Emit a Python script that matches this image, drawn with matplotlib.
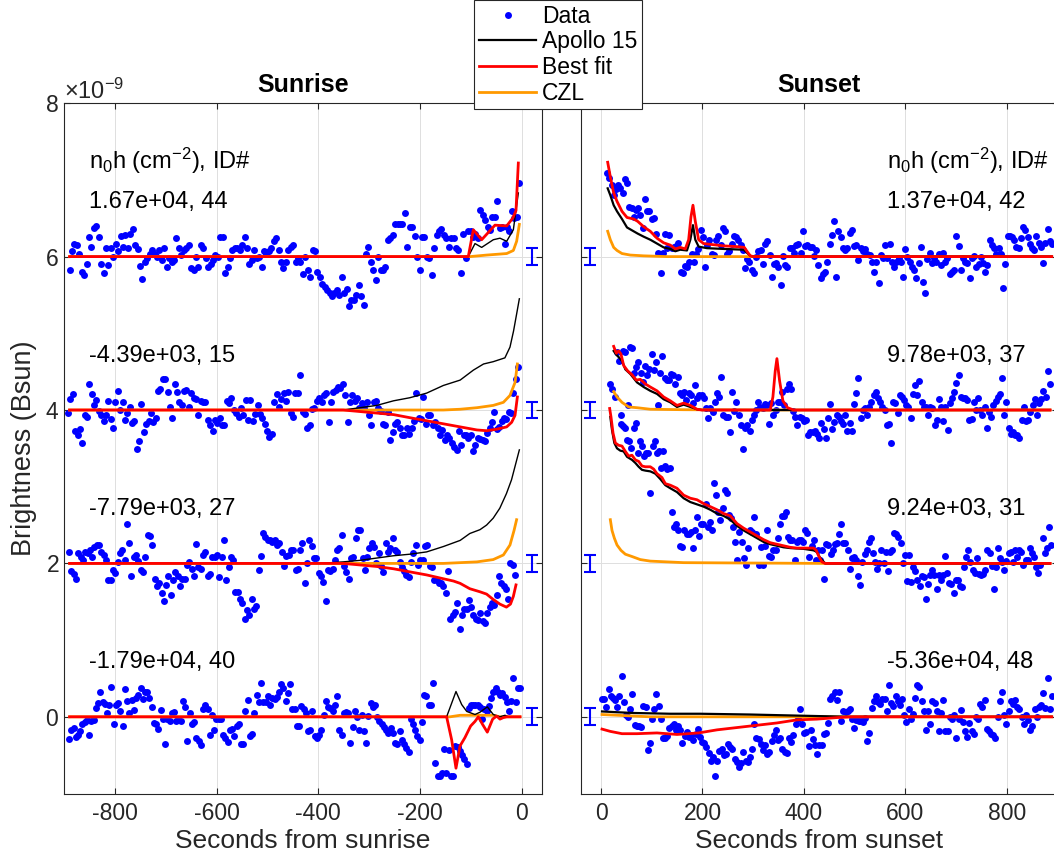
import numpy as np
import matplotlib.pyplot as plt
from matplotlib.ticker import ScalarFormatter, NullFormatter

plt.rcParams['font.family'] = ['Liberation Sans', 'DejaVu Sans']
plt.rcParams['mathtext.fontset'] = 'custom'
plt.rcParams['mathtext.rm'] = 'Liberation Sans'
plt.rcParams['mathtext.it'] = 'Liberation Sans:italic'
plt.rcParams['axes.unicode_minus'] = False

# ---- measured brightness residuals (units of 1e-9 Bsun), evenly sampled in time ----
# sunrise, ID 44  (t from -889 to -5 s)
sr44 = [-0.17, 0.07, 0.17, 0.15, 0.04, -0.20, -0.24, -0.09, 0.26, 0.13,
        0.37, 0.40, 0.26, -0.09, -0.21, 0.11, -0.11, 0.11, 0.00, 0.17,
        0.07, 0.27, 0.13, 0.28, 0.11, 0.30, 0.36, 0.15, 0.10, -0.12,
        -0.29, -0.07, -0.02, 0.04, 0.09, 0.04, 0.00, 0.09, -0.04, 0.11,
        -0.13, -0.02, -0.07, -0.04, 0.24, 0.11, 0.02, 0.09, 0.11, 0.15,
        -0.15, -0.17, 0.00, -0.13, 0.15, 0.11, -0.02, -0.13, -0.09, -0.04,
        0.02, 0.00, 0.26, 0.26, -0.21, -0.13, -0.02, 0.09, 0.11, 0.11,
        0.09, 0.15, 0.25, 0.11, -0.09, -0.04, 0.09, -0.02, 0.00, -0.13,
        0.07, 0.04, 0.07, 0.11, 0.20, 0.24, 0.09, -0.07, -0.15, -0.07,
        0.09, 0.13, 0.15, -0.07, -0.02, -0.07, -0.23, 0.00, -0.17, -0.26,
        0.08, 0.07, -0.20, -0.26, -0.36, -0.39, -0.43, -0.48, -0.52, -0.48,
        -0.43, -0.50, -0.27, -0.48, -0.42, -0.65, -0.57, -0.57, -0.50, -0.37,
        -0.52, -0.63, 0.03, 0.13, -0.07, -0.17, -0.30, -0.01, -0.17, -0.17,
        -0.14, 0.22, 0.24, 0.28, 0.43, 0.43, 0.43, 0.43, 0.57, 0.13,
        0.39, 0.39, 0.27, 0.00, -0.17, 0.26, 0.26, 0.00, -0.02, -0.24,
        0.11, 0.28, 0.33, 0.36, 0.28, 0.24, 0.13, 0.24, 0.24, 0.11,
        0.09, -0.22, 0.30, -0.02, 0.33, 0.33, 0.26, 0.30, 0.24, 0.61,
        0.54, 0.48, 0.39, 0.35, 0.51, 0.51, 0.73, 0.37, 0.39, 0.17,
        0.39, 0.33, 0.59, 0.50, 0.52, 0.96]
# sunrise, ID 15
sr15 = [-0.04, 0.14, 0.21, -0.27, -0.33, -0.25, -0.43, -0.07, -0.09, 0.34,
        0.21, 0.06, 0.13, -0.01, -0.07, -0.14, -0.06, 0.12, -0.12, -0.23,
        0.10, 0.25, 0.00, 0.11, -0.13, -0.04, 0.04, -0.17, -0.14, -0.51,
        -0.40, 0.08, -0.29, -0.18, -0.14, -0.04, -0.16, -0.10, 0.25, 0.27,
        0.40, 0.40, 0.23, 0.04, -0.10, 0.34, 0.24, 0.10, 0.06, 0.25,
        0.26, 0.04, 0.22, 0.16, 0.14, -0.06, 0.12, 0.11, 0.11, -0.13,
        -0.19, -0.27, -0.13, -0.17, -0.10, -0.19, -0.19, 0.12, 0.09, 0.16,
        0.00, -0.04, -0.09, 0.03, -0.07, 0.13, -0.13, 0.13, -0.14, -0.05,
        0.07, -0.05, -0.10, -0.18, -0.27, -0.35, -0.31, 0.10, 0.21, 0.04,
        0.14, 0.22, 0.12, 0.24, -0.04, -0.09, 0.22, 0.22, 0.45, -0.02,
        -0.05, -0.23, -0.19, 0.01, 0.03, 0.12, 0.16, 0.11, 0.20, 0.22,
        -0.16, 0.10, 0.23, 0.26, 0.30, 0.29, 0.34, 0.19, -0.16, 0.10,
        0.20, 0.12, 0.16, 0.03, 0.09, 0.03, 0.10, -0.06, -0.20, 0.11,
        0.12, 0.03, -0.01, -0.18, -0.19, -0.03, -0.39, -0.29, -0.18, -0.15,
        -0.23, -0.33, -0.33, -0.23, -0.31, -0.23, -0.14, 0.22, -0.10, -0.12,
        0.17, -0.18, -0.06, -0.07, -0.19, -0.15, -0.23, -0.33, -0.26, -0.39,
        -0.33, -0.37, -0.43, -0.48, -0.52, -0.27, -0.45, -0.33, -0.33, -0.36,
        -0.33, -0.53, -0.45, -0.36, -0.38, -0.39, -0.41, -0.30, -0.23, -0.15,
        -0.02, -0.25, -0.22, -0.14, -0.10, -0.12, -0.03, -0.04, 0.22, 0.40,
        0.56]
# sunrise, ID 27
sr27 = [0.15, -0.10, -0.14, -0.20, 0.13, 0.09, 0.05, 0.15, 0.14, 0.17,
        0.09, 0.22, 0.24, 0.24, 0.15, 0.11, 0.04, -0.21, -0.21, -0.09,
        -0.12, 0.02, 0.14, 0.17, 0.04, 0.52, 0.26, -0.17, 0.08, 0.11,
        0.03, -0.09, -0.11, 0.08, 0.37, 0.36, 0.24, -0.20, -0.30, -0.26,
        -0.38, -0.49, -0.28, -0.17, -0.41, -0.22, -0.11, -0.17, -0.30, -0.20,
        -0.20, -0.02, 0.02, -0.07, -0.17, 0.25, -0.05, -0.07, 0.11, 0.15,
        -0.17, -0.14, 0.08, 0.09, 0.11, -0.18, 0.08, 0.30, -0.22, -0.05,
        0.08, 0.04, -0.37, -0.37, -0.46, -0.51, -0.72, -0.61, -0.67, -0.47,
        -0.59, -0.56, -0.08, 0.10, 0.40, 0.35, 0.31, 0.30, 0.28, 0.30,
        0.24, 0.27, 0.15, -0.04, 0.10, 0.11, 0.17, 0.17, -0.08, -0.07,
        0.17, 0.26, -0.26, 0.00, 0.31, 0.23, 0.07, 0.07, -0.12, -0.17,
        -0.24, -0.49, -0.08, -0.10, -0.07, 0.04, 0.17, 0.20, 0.37, -0.03,
        -0.11, -0.20, 0.07, 0.08, 0.33, 0.44, 0.44, 0.07, -0.08, 0.09,
        0.20, 0.26, 0.22, 0.01, 0.14, -0.04, -0.11, 0.27, 0.15, 0.20,
        0.33, 0.17, 0.15, 0.02, -0.05, -0.10, -0.15, -0.18, 0.02, 0.13,
        0.24, -0.02, 0.05, 0.04, 0.23, 0.24, -0.03, -0.05, -0.22, -0.21,
        -0.26, -0.26, -0.30, -0.39, -0.10, -0.72, -0.67, -0.63, -0.52, -0.85,
        -0.67, -0.59, -0.60, -0.48, -0.57, -0.67, -0.72, -0.74, -0.65, -0.75,
        -0.78, -0.65, -0.57, -0.52, -0.54, -0.41, -0.17, -0.26, -0.30, -0.33,
        -0.46, 0.00, -0.02, -0.15]
# sunrise, ID 40
sr40 = [-0.29, -0.17, -0.14, -0.26, -0.24, -0.19, -0.09, -0.07, -0.04, -0.24,
        -0.06, -0.04, 0.12, 0.18, 0.32, 0.19, 0.17, 0.05, 0.16, 0.39,
        -0.10, 0.15, 0.18, 0.07, -0.12, 0.36, 0.20, 0.05, 0.22, 0.09,
        0.25, 0.29, 0.37, 0.23, 0.32, 0.33, 0.25, 0.13, -0.08, -0.10,
        -0.16, 0.09, -0.03, -0.36, -0.03, -0.06, 0.05, 0.06, -0.06, -0.03,
        -0.06, 0.20, 0.13, -0.32, 0.05, -0.10, -0.07, -0.27, -0.32, -0.37,
        0.10, 0.16, 0.10, -0.24, 0.02, -0.17, -0.03, -0.03, -0.03, -0.24,
        -0.27, -0.33, -0.17, -0.16, -0.25, -0.12, -0.10, -0.36, -0.35, 0.07,
        0.22, -0.25, -0.22, 0.05, 0.29, 0.19, 0.44, 0.19, 0.19, 0.27,
        0.15, 0.25, 0.23, 0.26, 0.32, 0.43, 0.38, 0.20, 0.31, 0.43,
        0.10, 0.10, -0.12, -0.12, 0.14, 0.10, 0.05, -0.19, -0.17, 0.07,
        -0.25, -0.27, -0.24, -0.17, 0.02, 0.20, 0.13, 0.12, 0.07, 0.16,
        0.27, -0.17, -0.24, 0.05, 0.06, 0.05, -0.34, -0.13, 0.07, 0.00,
        -0.17, 0.02, -0.19, -0.34, 0.01, 0.18, 0.13, 0.15, 0.00, -0.06,
        -0.10, -0.13, -0.17, -0.21, -0.14, -0.21, -0.34, -0.36, -0.19, -0.30,
        -0.36, -0.40, -0.46, -0.03, -0.10, -0.17, -0.25, -0.30, -0.07, 0.29,
        0.27, 0.16, 0.16, 0.44, -0.60, -0.77, -0.77, -0.73, -0.42, -0.73,
        -0.43, -0.77, -0.77, -0.38, -0.39, -0.45, -0.50, -0.55, -0.62, 0.12,
        0.16, 0.16, 0.15, 0.16, 0.13, -0.03, 0.10, 0.07, 0.14, 0.25,
        0.33, 0.37, 0.33, 0.29, 0.31, 0.26, 0.19, 0.07, 0.20, 0.50,
        0.19, 0.37, 0.37]
# sunset, ID 42  (t from 12 to 889 s)
ss42 = [1.09, 1.03, 0.93, 0.80, 0.88, 0.93, 0.89, 0.83, 1.01, 0.96,
        0.65, 0.64, 0.51, 0.61, 0.63, 0.54, 0.37, 0.75, 0.59, 0.60,
        0.49, 0.50, 0.30, 0.05, -0.22, 0.05, 0.30, 0.11, 0.28, 0.11,
        0.13, 0.14, 0.18, -0.20, -0.21, -0.12, -0.13, -0.07, 0.03, -0.07,
        0.04, 0.10, 0.35, 0.25, -0.14, 0.15, 0.21, 0.03, 0.02, 0.21,
        0.27, 0.15, 0.37, 0.33, 0.03, 0.07, 0.17, 0.27, 0.26, 0.22,
        0.15, 0.08, -0.15, -0.03, -0.07, -0.18, -0.21, 0.00, 0.07, 0.09,
        -0.09, 0.17, 0.20, 0.02, -0.26, -0.09, -0.08, -0.14, -0.37, 0.01,
        -0.11, -0.14, 0.11, 0.11, 0.05, 0.15, 0.17, 0.05, 0.34, 0.14,
        0.15, 0.12, 0.13, 0.01, 0.08, -0.11, -0.28, -0.23, -0.20, -0.07,
        0.17, 0.28, 0.47, -0.26, 0.33, 0.26, 0.11, 0.08, 0.11, 0.31,
        0.35, 0.14, 0.15, -0.05, 0.11, 0.07, 0.10, 0.04, 0.02, -0.07,
        -0.20, -0.07, -0.35, 0.02, -0.02, 0.15, -0.02, 0.17, -0.07, -0.13,
        -0.07, -0.02, -0.07, -0.26, 0.10, 0.00, -0.07, -0.13, -0.17, -0.28,
        -0.08, 0.13, -0.33, -0.48, -0.03, 0.05, -0.08, -0.02, -0.07, 0.03,
        -0.11, 0.05, -0.07, -0.02, -0.23, -0.20, -0.17, 0.27, 0.14, -0.17,
        -0.02, -0.07, -0.08, -0.28, -0.02, 0.01, -0.13, -0.10, 0.00, -0.08,
        -0.20, -0.11, 0.21, 0.15, 0.11, 0.03, 0.11, 0.04, -0.41, -0.10,
        0.27, 0.27, 0.25, 0.22, 0.12, 0.11, 0.24, 0.39, 0.35, 0.26,
        0.17, 0.11, 0.09, 0.27, 0.18, 0.13, -0.08, 0.18, 0.36, 0.20,
        0.17]
# sunset, ID 37
ss37 = [0.34, 0.27, 0.17, 0.75, 0.64, -0.06, 0.77, 0.75, 0.07, 0.82,
        0.81, 0.48, 0.56, 0.62, 0.48, 0.36, 0.58, 0.45, 0.53, 0.73,
        0.52, 0.62, 0.06, 0.48, 0.71, 0.42, 0.39, 0.39, 0.47, 0.45,
        0.34, 0.43, 0.22, 0.19, 0.23, 0.13, 0.22, 0.20, 0.09, 0.33,
        0.16, 0.19, 0.20, 0.16, 0.03, -0.10, 0.03, -0.03, 0.10, 0.22,
        0.17, 0.43, -0.07, -0.09, -0.09, -0.29, 0.24, -0.01, 0.11, -0.06,
        -0.19, -0.51, -0.23, -0.19, -0.27, -0.13, -0.07, 0.00, 0.11, 0.04,
        0.03, 0.08, 0.07, -0.18, 0.09, -0.06, 0.00, 0.10, 0.11, 0.23,
        0.07, 0.27, 0.34, 0.27, -0.01, -0.09, -0.19, -0.09, -0.10, -0.14,
        -0.13, -0.33, -0.29, -0.29, -0.27, -0.31, -0.36, -0.17, -0.25, -0.37,
        -0.10, 0.08, -0.25, -0.16, -0.06, -0.09, -0.14, -0.18, -0.06, -0.28,
        -0.17, -0.27, 0.08, 0.22, 0.42, -0.10, 0.00, 0.03, -0.06, 0.04,
        0.10, 0.20, 0.23, 0.16, 0.10, 0.04, 0.00, -0.20, -0.18, -0.43,
        0.11, 0.09, -0.04, 0.20, 0.17, 0.13, 0.07, 0.04, -0.10, 0.21,
        0.32, 0.20, 0.38, 0.10, 0.04, 0.04, -0.06, 0.04, 0.03, -0.19,
        -0.13, 0.14, 0.04, -0.14, 0.04, -0.26, 0.09, 0.16, 0.23, 0.35,
        0.46, 0.17, 0.16, 0.16, 0.13, -0.13, -0.12, 0.11, 0.00, 0.16,
        0.00, -0.06, 0.04, -0.23, -0.02, -0.09, 0.06, 0.12, 0.17, 0.21,
        0.42, -0.07, 0.10, -0.23, -0.31, -0.29, -0.33, -0.33, -0.37, -0.13,
        0.04, -0.14, -0.13, -0.02, 0.07, 0.14, -0.07, 0.09, 0.14, 0.25,
        0.17, 0.51, 0.34]
# sunset, ID 31  (t from 39 to 887 s)
ss31 = [1.82, 1.79, 1.77, 1.61, 1.60, 1.50, 1.77, 1.83, 1.44, 1.60,
        1.53, 1.40, 1.44, 1.44, 0.92, 1.53, 1.59, 1.44, 1.46, 1.24,
        1.46, 1.27, 1.23, 1.24, 0.67, 0.48, 0.51, 0.44, 0.23, 0.21,
        0.43, 0.39, 0.38, 0.41, 0.20, 0.43, 0.60, 0.36, 0.51, 0.52,
        0.77, 0.48, 0.54, 0.43, 1.05, 0.89, 0.67, 0.57, 0.72, 0.96,
        0.92, 0.63, 0.59, 0.48, 0.28, 0.04, 0.41, 0.28, 0.07, -0.02,
        0.20, 0.43, 0.41, 0.60, 0.39, -0.02, 0.22, -0.02, 0.23, 0.44,
        0.10, 0.08, 0.17, 0.17, 0.33, 0.52, 0.62, 0.62, 0.67, 0.34,
        0.30, 0.31, 0.04, 0.28, 0.30, 0.30, 0.28, 0.44, 0.40, 0.08,
        0.23, 0.30, 0.05, 0.17, 0.05, 0.18, -0.20, 0.25, 0.24, 0.12,
        0.18, 0.25, 0.26, 0.38, 0.51, 0.26, 0.27, 0.18, -0.07, 0.07,
        0.09, 0.04, -0.17, -0.28, 0.02, 0.12, 0.17, 0.28, 0.33, 0.14,
        0.02, -0.07, 0.01, 0.17, 0.01, 0.15, -0.10, 0.15, 0.17, 0.40,
        0.39, 0.35, 0.26, 0.00, 0.11, -0.23, 0.11, -0.24, -0.05, -0.10,
        -0.21, -0.30, -0.17, -0.18, -0.46, -0.27, -0.15, -0.09, -0.15, -0.34,
        -0.15, -0.22, -0.15, 0.10, -0.13, -0.26, -0.27, -0.39, -0.22, -0.21,
        -0.30, -0.31, -0.05, 0.09, 0.17, 0.02, -0.08, -0.13, 0.07, -0.14,
        -0.15, -0.14, -0.08, 0.17, 0.14, -0.03, -0.33, -0.05, 0.20, 0.07,
        0.02, -0.09, 0.03, 0.14, 0.15, 0.02, 0.17, 0.08, 0.17, 0.15,
        -0.02, 0.05, 0.05, 0.20, 0.13, 0.09, -0.05, -0.12, -0.02, 0.33,
        0.14, 0.20, 0.48, 0.24]
# sunset, ID 48  (t from 2 to 889 s)
ss48 = [0.23, 0.23, 0.13, 0.36, 0.27, 0.25, 0.22, 0.13, 0.27, 0.53,
        0.19, 0.03, 0.00, 0.10, 0.30, -0.11, -0.12, -0.12, -0.13, 0.14,
        0.13, -0.43, -0.34, -0.03, 0.10, 0.30, 0.14, -0.03, -0.27, -0.27,
        -0.25, -0.14, -0.12, -0.10, -0.17, -0.12, -0.17, -0.34, -0.25, -0.20,
        -0.26, -0.24, -0.30, -0.22, -0.16, -0.26, -0.33, -0.34, -0.39, -0.47,
        -0.57, -0.52, -0.77, -0.57, -0.45, -0.42, -0.50, -0.49, -0.36, -0.39,
        -0.42, -0.55, -0.59, -0.65, -0.60, -0.46, -0.58, -0.59, -0.53, -0.42,
        -0.10, -0.27, -0.29, -0.36, -0.43, -0.37, -0.49, -0.46, -0.32, -0.24,
        -0.17, -0.30, -0.27, -0.42, -0.46, -0.47, -0.27, -0.33, -0.24, -0.10,
        -0.03, 0.10, -0.10, -0.21, -0.20, -0.38, -0.17, -0.29, -0.37, -0.49,
        -0.37, -0.37, -0.22, -0.21, -0.08, 0.23, 0.27, 0.32, 0.22, 0.33,
        -0.06, 0.07, 0.06, 0.07, 0.10, -0.03, -0.14, -0.04, -0.06, -0.06,
        -0.07, -0.01, -0.32, -0.21, 0.12, 0.20, 0.27, 0.19, 0.17, 0.23,
        0.23, 0.07, 0.41, 0.18, 0.14, 0.27, 0.20, 0.16, 0.23, 0.03,
        -0.07, 0.10, -0.03, 0.04, 0.25, 0.41, 0.39, 0.20, 0.07, -0.17,
        0.07, -0.10, 0.20, 0.18, 0.07, -0.19, 0.05, 0.22, -0.19, -0.19,
        0.00, -0.03, 0.02, -0.27, -0.03, 0.09, -0.07, -0.19, -0.26, -0.08,
        -0.19, -0.22, 0.00, -0.03, 0.17, 0.13, 0.22, -0.16, -0.19, -0.22,
        -0.24, -0.27, 0.00, 0.20, 0.32, 0.02, -0.09, 0.07, 0.20, 0.17,
        0.22, 0.13, 0.10, 0.00, -0.10, 0.02, -0.04, -0.17, -0.12, 0.10,
        0.00, 0.13, 0.15, 0.31, 0.12, 0.51, 0.10, 0.27]

t_sr44 = (-889, -5)
t_sr15 = (-892, -7)
t_sr27 = (-890, -13)
t_sr40 = (-890, -3)
t_ss42 = (12, 889)
t_ss37 = (18, 885)
t_ss31 = (39, 887)
t_ss48 = (2, 889)

# ---- model curves: (time s, brightness 1e-9) ----
a15_sr44 = [(-889, 0), (-105, 0), (-91.8, 0.17), (-78.7, 0.12), (-55.8, 0.22), (-42.7, 0.24),
            (-29.5, 0.20), (-16.4, 0.35), (-6.6, 0.83)]
fit_sr44 = [(-889, 0), (-105, 0), (-95.1, 0.35), (-78.7, 0.22), (-52.5, 0.41), (-29.5, 0.40),
            (-17.7, 0.50), (-11.2, 0.60), (-6.6, 1.22)]
czl_sr44 = [(-889, 0), (-101.7, 0), (-68.9, 0.02), (-29.5, 0.04), (-16.4, 0.08), (-9.9, 0.20),
            (-4.6, 0.42)]
a15_sr15 = [(-889, 0), (-351, 0), (-318, 0.03), (-285, 0.06), (-252, 0.12), (-220, 0.16),
            (-187, 0.22), (-154, 0.32), (-121, 0.39), (-95, 0.52), (-75, 0.60), (-56, 0.63),
            (-33, 0.68), (-23, 0.82), (-16, 1.03), (-10, 1.25), (-4.6, 1.45)]
fit_sr15 = [(-889, 0), (-351, 0), (-318, -0.02), (-252, -0.06), (-220, -0.10), (-187, -0.14),
            (-154, -0.18), (-121, -0.22), (-88, -0.26), (-69, -0.27), (-49, -0.25), (-29.5, -0.22),
            (-19.7, -0.16), (-13.1, -0.07), (-8.5, 0.17)]
czl_sr15 = [(-889, 0), (-154, 0), (-121, 0.01), (-88, 0.03), (-56, 0.06), (-36, 0.10),
            (-23, 0.19), (-13, 0.36), (-8.5, 0.60)]
a15_sr27 = [(-889, 0), (-397, 0), (-351, 0.02), (-318, 0.04), (-285, 0.07), (-252, 0.10),
            (-220, 0.12), (-187, 0.15), (-154, 0.22), (-121, 0.30), (-102, 0.39), (-82, 0.44),
            (-69, 0.50), (-56, 0.59), (-43, 0.72), (-30, 0.91), (-20, 1.09), (-4.6, 1.48)]
fit_sr27 = [(-889, 0), (-351, 0), (-318, -0.02), (-285, -0.04), (-252, -0.07), (-220, -0.11),
            (-187, -0.15), (-154, -0.20), (-134, -0.23), (-121, -0.26), (-102, -0.33), (-82, -0.37),
            (-69, -0.40), (-56, -0.47), (-43, -0.53), (-30, -0.57), (-22, -0.53), (-16.4, -0.43),
            (-11.2, -0.28)]
czl_sr27 = [(-889, 0), (-154, 0), (-121, 0.01), (-88, 0.02), (-56, 0.05), (-36, 0.11),
            (-23, 0.24), (-15, 0.43), (-10, 0.57)]
a15_sr40 = [(-889, 0), (-147.6, 0), (-129.2, 0.33), (-118, 0.16), (-108, 0.07), (-91.8, 0.03),
            (-82, 0.06), (-67.6, 0.13), (-55.8, 0.03), (-42.7, 0), (-32.8, 0.02), (-26.2, 0),
            (-3.3, 0)]
fit_sr40 = [(-889, 0), (-147.6, 0), (-137.7, -0.30), (-129.2, -0.67), (-121.3, -0.38),
            (-111.5, -0.27), (-100.4, -0.12), (-91.8, -0.06), (-85.3, 0), (-76.8, -0.10),
            (-67.6, -0.20), (-57.1, -0.03), (-49.2, 0.01), (-42.7, -0.03), (-36.1, -0.01),
            (-29.5, 0), (-3.3, 0)]
czl_sr40 = [(-889, 0), (-141, 0), (-121, 0.02), (-56, 0.02), (-43, 0), (-3.3, 0)]

a15_ss42 = [(13.1, 0.89), (18.3, 0.80), (24.9, 0.67), (31.5, 0.59), (41.3, 0.49), (51.2, 0.38),
            (64.3, 0.33), (72.2, 0.30), (84, 0.26), (97.1, 0.22), (110.3, 0.17), (123.4, 0.12),
            (136.5, 0.10), (146.4, 0.07), (156.2, 0.09), (169.4, 0.08), (176, 0.22), (181.2, 0.41),
            (185.8, 0.22), (192.4, 0.13), (208.8, 0.11), (241.6, 0.10), (281, 0.09), (287.6, 0.05),
            (294.2, 0.01), (300.7, 0), (888, 0)]
fit_ss42 = [(13.1, 1.23), (18.3, 1.04), (24.9, 0.83), (31.5, 0.72), (41.3, 0.59), (51.2, 0.51),
            (64.3, 0.49), (72.2, 0.46), (84, 0.39), (97.1, 0.33), (110.3, 0.24), (123.4, 0.18),
            (136.5, 0.15), (146.4, 0.10), (156.2, 0.12), (166.1, 0.10), (172.7, 0.22), (177.3, 0.52),
            (181.2, 0.67), (185.8, 0.46), (192.4, 0.22), (202.2, 0.17), (215.4, 0.16), (241.6, 0.14),
            (267.9, 0.13), (282.4, 0.12), (287.6, 0.07), (294.2, 0.01), (300.7, 0), (888.6, 0)]
czl_ss42 = [(13.1, 0.33), (18.3, 0.22), (24.9, 0.12), (31.5, 0.08), (41.3, 0.04), (57.7, 0.02),
            (84, 0.01), (130, 0), (888, 0)]
a15_ss37 = [(24.9, 0.77), (30.1, 0.72), (34.7, 0.69), (41.3, 0.64), (47.9, 0.53), (57.7, 0.47),
            (70.9, 0.36), (84, 0.30), (97.1, 0.25), (110.3, 0.21), (123.4, 0.14), (136.5, 0.10),
            (149.7, 0.04), (162.8, 0.07), (176, 0.04), (189.1, 0.01), (198.9, 0), (885, 0)]
fit_ss37 = [(24.9, 0.83), (30.1, 0.74), (34.7, 0.77), (39.3, 0.73), (44.6, 0.58), (52.5, 0.51),
            (61, 0.46), (69.6, 0.39), (77.4, 0.40), (87.3, 0.34), (97.1, 0.30), (110.3, 0.25),
            (123.4, 0.17), (136.5, 0.12), (149.7, 0.06), (162.8, 0.09), (176, 0.06), (189.1, 0.01),
            (198.9, 0), (333.6, 0), (338.8, 0.17), (343.4, 0.51), (346.7, 0.67), (352, 0.38),
            (358.5, 0.12), (367.7, 0.03), (379.6, 0), (885.3, 0)]
czl_ss37 = [(24.9, 0.24), (31.5, 0.17), (41.3, 0.10), (54.4, 0.04), (70.9, 0.03), (97.1, 0.01),
            (162.8, 0.004), (300, 0), (885, 0)]
a15_ss31 = [(18.3, 1.91), (21.6, 1.74), (26.2, 1.57), (31.5, 1.50), (38, 1.47), (44.6, 1.46),
            (51.2, 1.39), (61, 1.35), (67.6, 1.31), (74.2, 1.26), (80.7, 1.22), (87.3, 1.21),
            (97.1, 1.20), (107, 1.17), (116.8, 1.10), (126.7, 1.02), (136.5, 0.98), (149.7, 0.93),
            (162.8, 0.85), (176, 0.80), (189.1, 0.77), (202.2, 0.74), (215.4, 0.70), (228.5, 0.65),
            (241.6, 0.62), (254.8, 0.57), (267.9, 0.49), (281, 0.43), (294.2, 0.38), (307.3, 0.33),
            (320.5, 0.28), (333.6, 0.25), (346.7, 0.23), (359.9, 0.21), (373, 0.20), (399.3, 0.19),
            (419, 0.17), (425.5, 0.15), (432.1, 0.07), (441.9, 0), (885, 0)]
fit_ss31 = [(17, 2.02), (19.6, 1.91), (23.6, 1.70), (28.2, 1.57), (34.7, 1.54), (41.3, 1.53),
            (47.9, 1.46), (54.4, 1.40), (61, 1.41), (67.6, 1.35), (74.2, 1.33), (80.7, 1.27),
            (87.3, 1.26), (97.1, 1.26), (103.7, 1.23), (110.3, 1.17), (120.1, 1.12), (126.7, 1.04),
            (136.5, 1.02), (149.7, 0.98), (162.8, 0.89), (176, 0.85), (189.1, 0.83), (202.2, 0.78),
            (215.4, 0.74), (228.5, 0.70), (241.6, 0.65), (254.8, 0.62), (267.9, 0.52), (281, 0.46),
            (294.2, 0.41), (307.3, 0.36), (320.5, 0.31), (333.6, 0.27), (346.7, 0.25), (359.9, 0.23),
            (373, 0.21), (386.1, 0.20), (419, 0.20), (424.2, 0.17), (428.8, 0.10), (435.4, 0.02),
            (441.9, 0), (885.3, 0)]
czl_ss31 = [(18.3, 0.57), (21.6, 0.43), (26.2, 0.33), (31.5, 0.24), (39.3, 0.17), (47.9, 0.12),
            (61, 0.09), (77.4, 0.05), (97.1, 0.03), (130, 0.02), (162.8, 0.01), (294, 0.005),
            (445, 0), (885, 0)]
a15_ss48 = [(1.9, 0.07), (31.5, 0.06), (64.3, 0.05), (136.5, 0.04), (195.7, 0.04), (294.2, 0.03),
            (359.9, 0.02), (425.5, 0.01), (491.2, 0), (888, 0)]
fit_ss48 = [(1.9, -0.16), (18.3, -0.19), (41.3, -0.22), (70.9, -0.22), (110.3, -0.21),
            (149.7, -0.23), (192.4, -0.21), (228.5, -0.17), (267.9, -0.14), (307.3, -0.11),
            (346.7, -0.08), (386.1, -0.04), (425.5, -0.03), (464.9, -0.01), (494.5, 0), (888.6, 0)]
czl_ss48 = [(1.9, 0.03), (64.3, 0.01), (97.1, 0), (888, 0)]

stack = [6, 4, 2, 0]
sunrise = [(sr44, t_sr44, a15_sr44, fit_sr44, czl_sr44, '1.67e+04, 44'),
           (sr15, t_sr15, a15_sr15, fit_sr15, czl_sr15, '-4.39e+03, 15'),
           (sr27, t_sr27, a15_sr27, fit_sr27, czl_sr27, '-7.79e+03, 27'),
           (sr40, t_sr40, a15_sr40, fit_sr40, czl_sr40, '-1.79e+04, 40')]
sunset = [(ss42, t_ss42, a15_ss42, fit_ss42, czl_ss42, '1.37e+04, 42'),
          (ss37, t_ss37, a15_ss37, fit_ss37, czl_ss37, '9.78e+03, 37'),
          (ss31, t_ss31, a15_ss31, fit_ss31, czl_ss31, '9.24e+03, 31'),
          (ss48, t_ss48, a15_ss48, fit_ss48, czl_ss48, '-5.36e+04, 48')]
err_half = 0.11
header = r'n$_{\mathregular{0}}$h (cm$^{\mathregular{-2}}$), ID#'

BLUE = '#0000ff'
RED = '#ff0000'
ORANGE = '#ff9900'
AX = '#262626'

fig = plt.figure(figsize=(10.54, 8.6), dpi=100)
ax1 = fig.add_axes([0.0607, 0.0773, 0.4538, 0.8027])
ax2 = fig.add_axes([0.551, 0.0773, 0.4524, 0.8027])


def curve(pts, base):
    a = np.array(pts, dtype=float)
    return a[:, 0], (a[:, 1] + base) * 1e-9


def draw(ax, panels, xerr_pos, text_x, black_lw):
    handles = None
    for base, (vals, trange, a15, fit, czl, lab) in zip(stack, panels):
        t = np.linspace(trange[0], trange[1], len(vals))
        hd, = ax.plot(t, (np.array(vals) + base) * 1e-9, 'o', ls='none', ms=5,
                      mfc=BLUE, mec=BLUE, mew=0, zorder=2)
        hc, = ax.plot(*curve(czl, base), color=ORANGE, lw=2.0, zorder=3)
        ha, = ax.plot(*curve(a15, base), color='black', lw=black_lw, zorder=3)
        hf, = ax.plot(*curve(fit, base), color=RED, lw=2.0, zorder=4)
        ax.errorbar([xerr_pos], [base * 1e-9], yerr=[err_half * 1e-9], color=BLUE,
                    lw=1.5, capsize=4.5, capthick=1.5, zorder=4)
        ax.text(text_x, (base + 0.63) * 1e-9, lab, fontsize=17, va='baseline', ha='left')
        if handles is None:
            handles = [hd, ha, hf, hc]
    ax.text(text_x, 7.14e-9, header, fontsize=17, va='baseline', ha='left')
    ax.set_ylim(-1e-9, 8e-9)
    ax.set_yticks([0, 2e-9, 4e-9, 6e-9, 8e-9])
    ax.grid(True, color='#dfdfdf', lw=0.7)
    ax.set_axisbelow(True)
    ax.tick_params(direction='in', top=True, right=True, length=4, width=0.8,
                   labelsize=16.5, colors=AX)
    ax.tick_params(axis='x', pad=6)
    for s in ax.spines.values():
        s.set_color(AX)
        s.set_linewidth(0.8)
    return handles


draw(ax1, sunrise, 20, -850, 1.0)
handles = draw(ax2, sunset, -21, 563, 1.6)

ax1.set_xlim(-900, 40.5)
ax1.set_xticks([-800, -600, -400, -200, 0])
fmt = ScalarFormatter(useMathText=True)
ax1.yaxis.set_major_formatter(fmt)
ax1.yaxis.get_offset_text().set_fontsize(17)
ax1.yaxis.get_offset_text().set_color(AX)
ax1.set_title('Sunrise', fontsize=18, fontweight='bold', pad=8)
ax1.set_xlabel('Seconds from sunrise', fontsize=19, color=AX, labelpad=3)
ax1.set_ylabel('Brightness (Bsun)', fontsize=19.5, color=AX, labelpad=6)

ax2.set_xlim(-40, 900)
ax2.set_xticks([0, 200, 400, 600, 800])
ax2.yaxis.set_major_formatter(NullFormatter())
ax2.set_title('Sunset', fontsize=18, fontweight='bold', pad=8)
ax2.set_xlabel('Seconds from sunset', fontsize=19, color=AX, labelpad=3)

leg = fig.legend(handles, ['Data', 'Apollo 15', 'Best fit', 'CZL'], loc='upper center',
                 bbox_to_anchor=(0.5295, 1.0), fontsize=16.5, numpoints=1, handlelength=2.5,
                 handletextpad=0.25, labelspacing=0.12, borderpad=0.2, borderaxespad=0.0,
                 fancybox=False, framealpha=1, edgecolor=AX)
leg.get_frame().set_linewidth(0.8)

fig.savefig('out.png', dpi=100)
